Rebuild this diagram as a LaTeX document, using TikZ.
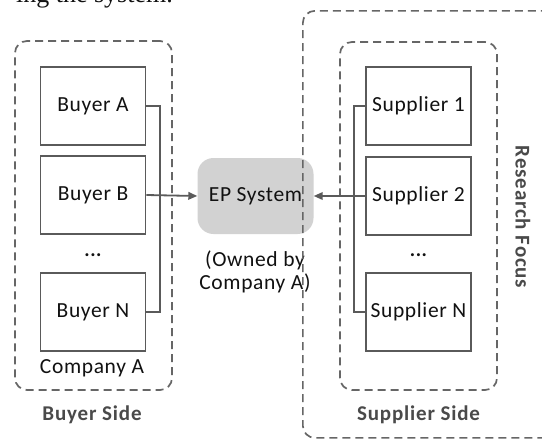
\documentclass[tikz,border=0pt]{standalone}
\usepackage{fontspec}
\setmainfont{Carlito}[LetterSpace=3]
\newfontfamily\serifcut{Liberation Serif}
\usetikzlibrary{arrows.meta}

\definecolor{linegray}{HTML}{5A5A5A}
\definecolor{dashgray}{HTML}{666666}
\definecolor{epfill}{HTML}{D2D2D2}
\definecolor{labelgray}{HTML}{4A4A4A}
\definecolor{textdark}{HTML}{111111}

\tikzset{
  partybox/.style={draw=linegray, line width=1.8pt, minimum width=105pt, minimum height=78pt,
    inner sep=0pt, font=\fontsize{21.5}{24}\selectfont, text=textdark},
  groupbox/.style={draw=dashgray, line width=1.7pt, dash pattern=on 8pt off 5pt,
    rounded corners=12pt, inner sep=0pt},
  conn/.style={draw=linegray, line width=1.6pt},
  arr/.style={draw=linegray, line width=1.8pt, -{Triangle[length=9pt,width=7.5pt]}},
  sidelabel/.style={font=\bfseries\fontsize{21}{24}\selectfont\addfontfeature{LetterSpace=4}, text=labelgray},
  plain/.style={font=\fontsize{21.5}{24}\selectfont, text=textdark},
  dots/.style={font=\bfseries\fontsize{20}{22}\selectfont, text=textdark},
}

\begin{document}
\begin{tikzpicture}[x=1pt, y=-1pt]
\useasboundingbox (0,0) rectangle (542,440);
\fill[white] (0,0) rectangle (542,440);
\begin{scope}
\clip (0,0) rectangle (542,440);

% running text above the figure
\node[anchor=base east, inner sep=0pt, font=\serifcut\fontsize{26}{28}\selectfont, text=textdark]
  (runin) at (173,2) {ing the system.};

% buyer side
\node[groupbox, minimum width=157pt, minimum height=349pt] (company) at (93.5,215.5) {};
\node[partybox] (bA) at (93,106) {Buyer A};
\node[partybox] (bB) at (93,195) {Buyer B};
\node[dots] (bdots) at (93,255) {...};
\node[partybox] (bN) at (93,312) {Buyer N};
\node[plain] (compA) at (92,368) {Company A};
\node[sidelabel] (buyerside) at (92,415) {Buyer Side};

% supplier side
\node[groupbox, minimum width=157pt, minimum height=348pt] (suppliers) at (418.5,216) {};
\node[partybox] (s1) at (418.5,106) {Supplier 1};
\node[partybox] (s2) at (418.5,196) {Supplier 2};
\node[dots] (sdots) at (418.5,255) {...};
\node[partybox] (sN) at (418.5,312) {Supplier N};
\node[sidelabel] (supplierside) at (418.5,415) {Supplier Side};

% central system
\node[fill=epfill, rounded corners=16pt, minimum width=116pt, minimum height=76pt,
  inner sep=0pt, font=\fontsize{21.5}{24}\selectfont, text=textdark] (ep) at (255.5,196) {EP System};
\node[plain, align=center] (owned) at (255,272) {(Owned by\\[-1pt]Company A)};

% research focus frame, running off the right edge
\node[groupbox, minimum width=258pt, minimum height=427pt, anchor=north west] (focus) at (302,10) {};
\node[sidelabel, rotate=-90] (rf) at (523,217) {Research Focus};

% buses and arrows
\coordinate (busL) at (160,0);
\coordinate (busR) at (354,0);
\draw[conn] (bA.east) -- (bA.east -| busL) -- (bN.east -| busL) -- (bN.east);
\draw[arr] (bB.east) -- (ep.west);
\draw[conn] (s1.west) -- (s1.west -| busR) -- (sN.west -| busR) -- (sN.west);
\draw[arr] (s2.west) -- (ep.east);
\end{scope}
\end{tikzpicture}
\end{document}
